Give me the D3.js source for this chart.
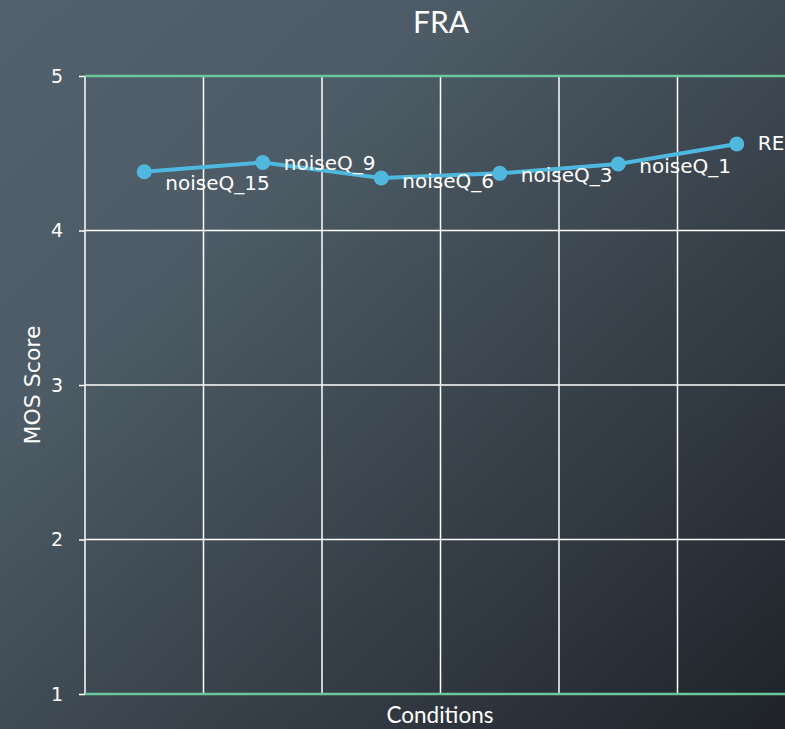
<!DOCTYPE html>
<html>
<head>
<meta charset="utf-8">
<script src="https://cdn.jsdelivr.net/npm/d3@7"></script>
<style>
  html, body { margin: 0; padding: 0; background: #2b333a; }
  svg { display: block; }
  text { fill: #ffffff; }
  .wide { font-family: "DejaVu Sans", "Noto Sans", sans-serif; }
  .narrow { font-family: "Lato", "Noto Sans", sans-serif; }
</style>
</head>
<body>
<svg id="chart" width="785" height="729"></svg>
<script>
// Mean opinion scores per condition
const categories = ["noiseQ_15", "noiseQ_9", "noiseQ_6", "noiseQ_3", "noiseQ_1", "REF"];
const mosScores = [4.38, 4.44, 4.34, 4.37, 4.43, 4.56];
const yTicks = [1, 2, 3, 4, 5];
const chartTitle = "FRA";
const xTitle = "Conditions";
const yTitle = "MOS Score";

const W = 785, H = 729;
const margin = { left: 85, top: 76, bottom: 35 };
const plotBottom = H - margin.bottom;
const bandW = 118.5;

const svg = d3.select("#chart");

// background gradient
const defs = svg.append("defs");
const grad = defs.append("linearGradient")
  .attr("id", "bg").attr("x1", "0%").attr("y1", "0%").attr("x2", "100%").attr("y2", "100%");
grad.append("stop").attr("offset", "0%").attr("stop-color", "#52626c");
grad.append("stop").attr("offset", "30%").attr("stop-color", "#4c5b65");
grad.append("stop").attr("offset", "65%").attr("stop-color", "#363f48");
grad.append("stop").attr("offset", "100%").attr("stop-color", "#1f2329");
svg.append("rect").attr("width", W).attr("height", H).attr("fill", "url(#bg)");

const x = d3.scaleBand()
  .domain(categories)
  .range([margin.left, margin.left + bandW * categories.length])
  .padding(0);

const y = d3.scaleLinear().domain([1, 5]).range([plotBottom, margin.top]);

// vertical grid lines at band edges
const edges = categories.map(c => x(c)).concat([x.range()[1]]);
svg.append("g").selectAll("line").data(edges).join("line")
  .attr("x1", d => d).attr("x2", d => d)
  .attr("y1", y(5)).attr("y2", y(1))
  .attr("stroke", "#ffffff").attr("stroke-width", 1.5);

// y axis with horizontal grid
const yAxis = d3.axisLeft(y).tickValues(yTicks).tickFormat(d3.format("d"))
  .tickSize(6).tickPadding(16);
const gy = svg.append("g").attr("transform", `translate(${margin.left},0)`).call(yAxis);
gy.select(".domain").remove();
gy.selectAll(".tick line").attr("stroke", "#ffffff").attr("stroke-width", 1.5);
gy.selectAll(".tick text").attr("fill", "#ffffff").attr("class", "wide")
  .style("font-size", "19px").style("font-family", null);

svg.append("g").selectAll("line").data(yTicks).join("line")
  .attr("x1", margin.left).attr("x2", W + 20)
  .attr("y1", d => y(d)).attr("y2", d => y(d))
  .attr("stroke", d => (d === 1 || d === 5) ? "#6cc69c" : "#ffffff")
  .attr("stroke-width", d => (d === 1 || d === 5) ? 2.5 : 1.5);

// data line
const pts = categories.map((c, i) => ({ c, v: mosScores[i] }));
const cx = d => x(d.c) + x.bandwidth() / 2;
svg.append("path").datum(pts)
  .attr("fill", "none").attr("stroke", "#4fb8df").attr("stroke-width", 4)
  .attr("d", d3.line().x(cx).y(d => y(d.v)));

svg.append("g").selectAll("circle").data(pts).join("circle")
  .attr("cx", cx).attr("cy", d => y(d.v)).attr("r", 7.5)
  .attr("fill", "#4fb8df");

// point labels, nudged vertically to keep them off the line
const labelShift = [18, 7, 10, 9, 9, 6];
svg.append("g").selectAll("text").data(pts).join("text")
  .attr("class", "wide")
  .attr("x", d => cx(d) + 21)
  .attr("y", (d, i) => y(d.v) + labelShift[i])
  .style("font-size", "20px")
  .text(d => d.c);

// titles
svg.append("text").attr("class", "narrow").attr("x", 441).attr("y", 33).attr("text-anchor", "middle")
  .style("font-size", "30px").text(chartTitle);
svg.append("text").attr("class", "narrow").attr("x", 440).attr("y", 723).attr("text-anchor", "middle")
  .style("font-size", "22.5px").text(xTitle);
svg.append("text").attr("class", "wide").attr("transform", `translate(40,385) rotate(-90)`)
  .attr("text-anchor", "middle").style("font-size", "22px").text(yTitle);
</script>
</body>
</html>
